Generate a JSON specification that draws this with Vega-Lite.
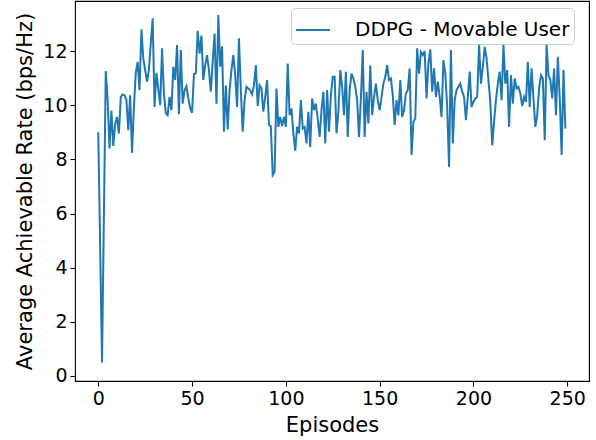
{
  "$schema": "https://vega.github.io/schema/vega-lite/v6.json",
  "width": 514,
  "height": 380,
  "autosize": {"type": "none"},
  "padding": {"left": 75, "top": 1, "right": 7, "bottom": 59},
  "background": "white",
  "config": {
    "font": "DejaVu Sans",
    "view": {"stroke": "#000000", "strokeWidth": 1.1},
    "axis": {
      "grid": false,
      "domain": false,
      "tickColor": "#000000",
      "tickWidth": 1.1,
      "tickSize": 5,
      "labelColor": "#000000",
      "labelFontSize": 19,
      "labelPadding": 3,
      "titleColor": "#000000",
      "titleFontSize": 21,
      "titleFontWeight": "normal"
    }
  },
  "data": {
    "values": [
      {"episode": 0, "rate": 9.0}, {"episode": 1, "rate": 4.8}, {"episode": 2, "rate": 0.5}, {"episode": 3, "rate": 5.9}, {"episode": 4, "rate": 11.26},
      {"episode": 5, "rate": 10.2}, {"episode": 6, "rate": 8.4}, {"episode": 7, "rate": 9.8}, {"episode": 8, "rate": 8.5}, {"episode": 9, "rate": 9.3},
      {"episode": 10, "rate": 9.57}, {"episode": 11, "rate": 8.96}, {"episode": 12, "rate": 10.3}, {"episode": 13, "rate": 10.4}, {"episode": 14, "rate": 10.37},
      {"episode": 15, "rate": 10.2}, {"episode": 16, "rate": 9.08}, {"episode": 17, "rate": 10.37}, {"episode": 18, "rate": 8.24}, {"episode": 19, "rate": 9.94},
      {"episode": 20, "rate": 11.2}, {"episode": 21, "rate": 11.6}, {"episode": 22, "rate": 10.56}, {"episode": 23, "rate": 12.8}, {"episode": 24, "rate": 11.73},
      {"episode": 25, "rate": 11.3}, {"episode": 26, "rate": 10.87}, {"episode": 27, "rate": 11.3}, {"episode": 28, "rate": 12.3}, {"episode": 29, "rate": 13.21},
      {"episode": 30, "rate": 9.94}, {"episode": 31, "rate": 11.2}, {"episode": 32, "rate": 10.6}, {"episode": 33, "rate": 10.0}, {"episode": 34, "rate": 12.1},
      {"episode": 35, "rate": 10.43}, {"episode": 36, "rate": 9.7}, {"episode": 37, "rate": 9.63}, {"episode": 38, "rate": 10.31}, {"episode": 39, "rate": 9.82},
      {"episode": 40, "rate": 11.42}, {"episode": 41, "rate": 10.93}, {"episode": 42, "rate": 12.22}, {"episode": 43, "rate": 9.67}, {"episode": 44, "rate": 12.04},
      {"episode": 45, "rate": 10.06}, {"episode": 46, "rate": 10.55}, {"episode": 47, "rate": 10.7}, {"episode": 48, "rate": 10.25}, {"episode": 49, "rate": 9.9},
      {"episode": 50, "rate": 9.72}, {"episode": 51, "rate": 11.15}, {"episode": 52, "rate": 11.17}, {"episode": 53, "rate": 12.75}, {"episode": 54, "rate": 11.91},
      {"episode": 55, "rate": 12.57}, {"episode": 56, "rate": 10.93}, {"episode": 57, "rate": 11.48}, {"episode": 58, "rate": 11.85}, {"episode": 59, "rate": 11.3},
      {"episode": 60, "rate": 10.5}, {"episode": 61, "rate": 11.6}, {"episode": 62, "rate": 12.65}, {"episode": 63, "rate": 10.06}, {"episode": 64, "rate": 13.33},
      {"episode": 65, "rate": 11.42}, {"episode": 66, "rate": 12.18}, {"episode": 67, "rate": 9.02}, {"episode": 68, "rate": 10.74}, {"episode": 69, "rate": 9.11},
      {"episode": 70, "rate": 10.56}, {"episode": 71, "rate": 11.3}, {"episode": 72, "rate": 11.85}, {"episode": 73, "rate": 11.11}, {"episode": 74, "rate": 9.94},
      {"episode": 75, "rate": 12.47}, {"episode": 76, "rate": 10.56}, {"episode": 77, "rate": 9.02}, {"episode": 78, "rate": 10.19}, {"episode": 79, "rate": 10.68},
      {"episode": 80, "rate": 10.62}, {"episode": 81, "rate": 10.55}, {"episode": 82, "rate": 10.4}, {"episode": 83, "rate": 10.74}, {"episode": 84, "rate": 11.48},
      {"episode": 85, "rate": 9.97}, {"episode": 86, "rate": 10.74}, {"episode": 87, "rate": 10.62}, {"episode": 88, "rate": 9.76}, {"episode": 89, "rate": 10.31},
      {"episode": 90, "rate": 10.93}, {"episode": 91, "rate": 9.27}, {"episode": 92, "rate": 9.23}, {"episode": 93, "rate": 7.42}, {"episode": 94, "rate": 7.54},
      {"episode": 95, "rate": 10.62}, {"episode": 96, "rate": 9.2}, {"episode": 97, "rate": 9.57}, {"episode": 98, "rate": 9.23}, {"episode": 99, "rate": 9.57},
      {"episode": 100, "rate": 9.2}, {"episode": 101, "rate": 11.54}, {"episode": 102, "rate": 9.63}, {"episode": 103, "rate": 9.88}, {"episode": 104, "rate": 8.96},
      {"episode": 105, "rate": 8.32}, {"episode": 106, "rate": 9.2}, {"episode": 107, "rate": 8.96}, {"episode": 108, "rate": 10.19}, {"episode": 109, "rate": 9.14},
      {"episode": 110, "rate": 9.2}, {"episode": 111, "rate": 8.59}, {"episode": 112, "rate": 9.76}, {"episode": 113, "rate": 8.46}, {"episode": 114, "rate": 10.25},
      {"episode": 115, "rate": 9.82}, {"episode": 116, "rate": 10.06}, {"episode": 117, "rate": 9.5}, {"episode": 118, "rate": 8.83}, {"episode": 119, "rate": 9.82},
      {"episode": 120, "rate": 10.5}, {"episode": 121, "rate": 8.59}, {"episode": 122, "rate": 10.56}, {"episode": 123, "rate": 9.02}, {"episode": 124, "rate": 10.37},
      {"episode": 125, "rate": 11.05}, {"episode": 126, "rate": 11.05}, {"episode": 127, "rate": 8.96}, {"episode": 128, "rate": 9.76}, {"episode": 129, "rate": 11.3},
      {"episode": 130, "rate": 10.68}, {"episode": 131, "rate": 9.63}, {"episode": 132, "rate": 11.24}, {"episode": 133, "rate": 8.83}, {"episode": 134, "rate": 10.56},
      {"episode": 135, "rate": 11.17}, {"episode": 136, "rate": 10.99}, {"episode": 137, "rate": 10.68}, {"episode": 138, "rate": 10.19}, {"episode": 139, "rate": 8.83},
      {"episode": 140, "rate": 10.25}, {"episode": 141, "rate": 12.04}, {"episode": 142, "rate": 8.83}, {"episode": 143, "rate": 10.5}, {"episode": 144, "rate": 9.33},
      {"episode": 145, "rate": 11.48}, {"episode": 146, "rate": 9.63}, {"episode": 147, "rate": 10.31}, {"episode": 148, "rate": 10.8}, {"episode": 149, "rate": 10.19},
      {"episode": 150, "rate": 9.82}, {"episode": 151, "rate": 10.3}, {"episode": 152, "rate": 10.8}, {"episode": 153, "rate": 11.05}, {"episode": 154, "rate": 11.48},
      {"episode": 155, "rate": 10.93}, {"episode": 156, "rate": 10.99}, {"episode": 157, "rate": 10.37}, {"episode": 158, "rate": 9.27}, {"episode": 159, "rate": 10.19},
      {"episode": 160, "rate": 9.63}, {"episode": 161, "rate": 10.93}, {"episode": 162, "rate": 9.57}, {"episode": 163, "rate": 9.82}, {"episode": 164, "rate": 10.43},
      {"episode": 165, "rate": 10.56}, {"episode": 166, "rate": 11.36}, {"episode": 167, "rate": 8.16}, {"episode": 168, "rate": 9.39}, {"episode": 169, "rate": 9.51},
      {"episode": 170, "rate": 12.1}, {"episode": 171, "rate": 11.17}, {"episode": 172, "rate": 11.97}, {"episode": 173, "rate": 11.85}, {"episode": 174, "rate": 12.0},
      {"episode": 175, "rate": 10.25}, {"episode": 176, "rate": 11.54}, {"episode": 177, "rate": 12.06}, {"episode": 178, "rate": 10.5}, {"episode": 179, "rate": 11.36},
      {"episode": 180, "rate": 10.31}, {"episode": 181, "rate": 10.87}, {"episode": 182, "rate": 10.31}, {"episode": 183, "rate": 9.57}, {"episode": 184, "rate": 11.67},
      {"episode": 185, "rate": 11.17}, {"episode": 186, "rate": 9.94}, {"episode": 187, "rate": 7.72}, {"episode": 188, "rate": 12.04}, {"episode": 189, "rate": 8.59},
      {"episode": 190, "rate": 10.19}, {"episode": 191, "rate": 10.56}, {"episode": 192, "rate": 10.68}, {"episode": 193, "rate": 10.8}, {"episode": 194, "rate": 10.5},
      {"episode": 195, "rate": 10.31}, {"episode": 196, "rate": 9.45}, {"episode": 197, "rate": 10.31}, {"episode": 198, "rate": 11.24}, {"episode": 199, "rate": 9.94},
      {"episode": 200, "rate": 10.12}, {"episode": 201, "rate": 10.25}, {"episode": 202, "rate": 10.31}, {"episode": 203, "rate": 12.22}, {"episode": 204, "rate": 10.8},
      {"episode": 205, "rate": 11.4}, {"episode": 206, "rate": 12.16}, {"episode": 207, "rate": 11.73}, {"episode": 208, "rate": 10.93}, {"episode": 209, "rate": 10.12},
      {"episode": 210, "rate": 8.52}, {"episode": 211, "rate": 9.39}, {"episode": 212, "rate": 10.19}, {"episode": 213, "rate": 10.8}, {"episode": 214, "rate": 11.24},
      {"episode": 215, "rate": 10.19}, {"episode": 216, "rate": 12.22}, {"episode": 217, "rate": 10.8}, {"episode": 218, "rate": 11.3}, {"episode": 219, "rate": 9.2},
      {"episode": 220, "rate": 11.11}, {"episode": 221, "rate": 10.06}, {"episode": 222, "rate": 10.99}, {"episode": 223, "rate": 10.62}, {"episode": 224, "rate": 10.68},
      {"episode": 225, "rate": 10.43}, {"episode": 226, "rate": 9.97}, {"episode": 227, "rate": 10.31}, {"episode": 228, "rate": 10.12}, {"episode": 229, "rate": 11.6},
      {"episode": 230, "rate": 9.94}, {"episode": 231, "rate": 11.36}, {"episode": 232, "rate": 10.25}, {"episode": 233, "rate": 9.2}, {"episode": 234, "rate": 9.63},
      {"episode": 235, "rate": 10.62}, {"episode": 236, "rate": 11.11}, {"episode": 237, "rate": 10.99}, {"episode": 238, "rate": 8.71}, {"episode": 239, "rate": 12.22},
      {"episode": 240, "rate": 11.11}, {"episode": 241, "rate": 10.93}, {"episode": 242, "rate": 10.25}, {"episode": 243, "rate": 11.36}, {"episode": 244, "rate": 9.63},
      {"episode": 245, "rate": 11.79}, {"episode": 246, "rate": 10.25}, {"episode": 247, "rate": 8.16}, {"episode": 248, "rate": 11.3}, {"episode": 249, "rate": 9.14}
    ]
  },
  "transform": [{"calculate": "'DDPG - Movable User'", "as": "series"}],
  "mark": {"type": "line", "strokeWidth": 2, "clip": true},
  "encoding": {
    "x": {
      "field": "episode",
      "type": "quantitative",
      "scale": {"domain": [-12.4, 261.6], "nice": false, "zero": false},
      "axis": {"values": [0, 50, 100, 150, 200, 250], "title": "Episodes", "titlePadding": 6}
    },
    "y": {
      "field": "rate",
      "type": "quantitative",
      "scale": {"domain": [-0.185, 13.85], "nice": false, "zero": false},
      "axis": {"values": [0, 2, 4, 6, 8, 10, 12], "title": "Average Achievable Rate (bps/Hz)", "titlePadding": 7}
    },
    "color": {
      "field": "series",
      "type": "nominal",
      "scale": {"range": ["#1f77b4"]},
      "legend": {
        "title": null,
        "orient": "none",
        "legendX": 216,
        "legendY": 7,
        "symbolType": "stroke",
        "symbolSize": 1156,
        "symbolStrokeWidth": 2,
        "labelFontSize": 20,
        "labelLimit": 0,
        "labelColor": "#000000",
        "labelOffset": 24,
        "padding": 4,
        "strokeColor": "#cccccc",
        "fillColor": "#ffffff",
        "cornerRadius": 4
      }
    }
  }
}
